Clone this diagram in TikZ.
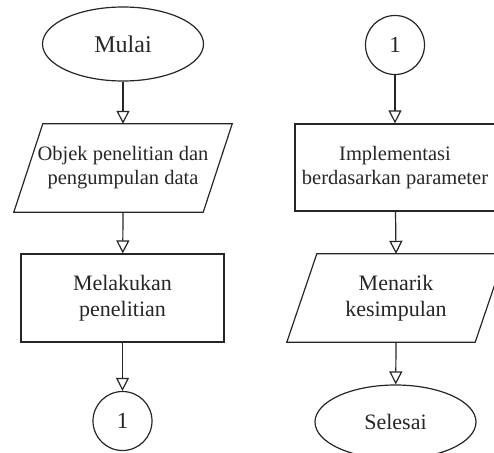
\documentclass[tikz,border=0pt]{standalone}
\usepackage{fontspec}
\setmainfont{Liberation Serif}
\usetikzlibrary{shapes.geometric,arrows.meta}
\begin{document}
\begin{tikzpicture}[x=1pt,y=-1pt,
  lin/.style={line width=1.2pt,draw=black!85},
  txt/.style={inner sep=0pt,align=center,text=black!85,font=\fontsize{21}{25}\selectfont},
  boxshape/.style={txt,lin,draw,rectangle},
  paranode/.style={txt,rectangle,minimum height=88pt},
  termshape/.style={txt,lin,draw,ellipse,minimum width=161pt,minimum height=74pt,font=\fontsize{23}{27}\selectfont},
  connshape/.style={txt,lin,draw,circle,minimum size=59pt,font=\fontsize{23}{27}\selectfont},
  flow/.style={lin,-{Triangle[open,length=13pt,width=13pt,fill=white]}}
]
\useasboundingbox (0,0) rectangle (494,452);
% left column
\node[termshape,font=\fontsize{24}{28}\selectfont] (mulai) at (123,44) {Mulai};
\node[paranode,minimum width=218pt,font=\fontsize{20.5}{24}\selectfont] (obj) at (123,168) {Objek penelitian dan\\pengumpulan data};
\draw[lin] ([xshift=29pt]obj.north west) -- (obj.north east) -- ([xshift=-29pt]obj.south east) -- (obj.south west) -- cycle;
\node[boxshape,minimum width=203pt,minimum height=88pt,font=\fontsize{22}{26}\selectfont] (mel) at (122.5,298) {Melakukan\\penelitian};
\node[connshape] (c1) at (122.5,421) {1};
% right column
\node[connshape] (c2) at (395,45) {1};
\node[boxshape,minimum width=200pt,minimum height=87pt,font=\fontsize{20.5}{24}\selectfont] (impl) at (395,167.5) {Implementasi\\berdasarkan parameter};
\node[paranode,minimum width=218pt,font=\fontsize{22}{26}\selectfont] (men) at (396,298) {Menarik\\kesimpulan};
\draw[lin] ([xshift=30pt]men.north west) -- (men.north east) -- ([xshift=-30pt]men.south east) -- (men.south west) -- cycle;
\node[termshape,font=\fontsize{22}{26}\selectfont] (sel) at (395.5,422) {Selesai};
% connectors
\draw[flow] (mulai) -- (obj.north);
\draw[flow] (obj.south) -- (mel);
\draw[flow] (mel) -- (c1);
\draw[flow] (c2) -- (impl);
\draw[flow] (impl) -- (men.north);
\draw[flow] (men.south) -- (sel);
\end{tikzpicture}
\end{document}
